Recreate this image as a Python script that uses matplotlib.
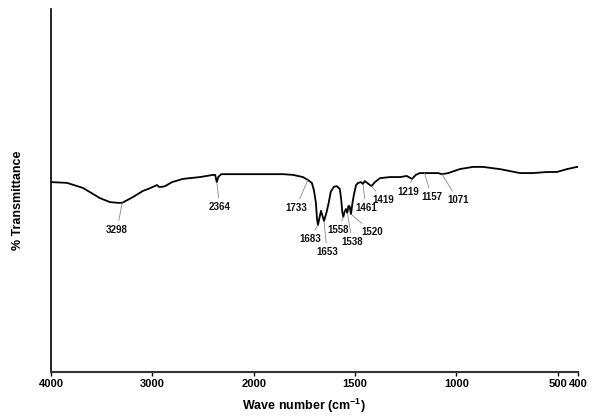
import numpy as np
import matplotlib
matplotlib.use("Agg")
import matplotlib.pyplot as plt

plt.rcParams['font.family'] = ['Liberation Sans', 'DejaVu Sans']
plt.rcParams['mathtext.fontset'] = 'custom'
plt.rcParams['mathtext.rm'] = 'Liberation Sans'
plt.rcParams['mathtext.bf'] = 'Liberation Sans:bold'

wavenumber = [4000, 3990, 3842, 3684, 3517, 3418, 3340, 3298, 3191, 3092, 3043, 2994, 2954, 2934,
              2905, 2875, 2806, 2698, 2530, 2402, 2380, 2364, 2350, 2320, 2264, 2037, 1855, 1806,
              1757, 1733, 1713, 1703, 1693, 1688, 1683, 1668, 1653, 1640, 1630, 1620, 1605, 1590,
              1575, 1568, 1563, 1558, 1552, 1545, 1538, 1533, 1527, 1520, 1512, 1505, 1495, 1485,
              1470, 1461, 1452, 1440, 1419, 1402, 1377, 1328, 1278, 1245, 1219, 1200, 1180, 1157,
              1120, 1090, 1071, 1040, 983, 918, 869, 786, 686, 622, 553, 504, 454, 405, 400]
transmittance = [52.3, 52.3, 52.1, 50.7, 47.9, 46.8, 46.6, 46.6, 48.2, 49.9, 50.4, 51.0, 51.5, 51.0,
                 51.0, 51.2, 52.3, 53.2, 53.7, 54.3, 54.3, 52.3, 53.7, 54.5, 54.5, 54.5, 54.5, 54.3,
                 53.7, 52.9, 52.1, 50.1, 46.6, 42.4, 40.5, 44.4, 41.6, 44.1, 46.6, 49.6, 51.0, 51.2,
                 50.4, 47.4, 44.1, 42.7, 44.1, 44.9, 43.8, 45.7, 45.7, 43.5, 46.8, 49.0, 51.5, 52.1,
                 52.3, 51.8, 52.6, 52.1, 51.2, 52.3, 53.4, 53.7, 53.7, 54.0, 53.2, 54.3, 54.8, 54.8,
                 54.8, 54.8, 54.5, 54.8, 55.9, 56.5, 56.5, 55.9, 54.8, 54.8, 55.1, 55.1, 55.9, 56.5, 56.5]

peak_labels = [3298, 2364, 1733, 1683, 1653, 1558, 1538, 1520, 1461, 1419, 1219, 1157, 1071]
# label offsets in pixels (dx, dy) relative to the peak on the curve
label_offsets = [(-5, -27), (3, -25), (-12, -28), (-8, -14), (3, -31), (-5, -13), (5, -29),
                 (21, -18), (3, -24), (12, -14), (-4, -13), (7, -24), (16, -26)]

xticks = [4000, 3000, 2000, 1500, 1000, 500, 400]
xtick_labels = ['4000', '3000', '2000', '1500', '1000', '500', '400']


def fwd(w):
    w = np.asarray(w, dtype=float)
    return np.where(w > 2000, 2000 + (w - 2000) / 2.0, w)


def inv(g):
    g = np.asarray(g, dtype=float)
    return np.where(g > 2000, 2000 + 2.0 * (g - 2000), g)


fig = plt.figure(figsize=(5.96, 4.16), dpi=100)
ax = fig.add_axes([51 / 596, 44 / 416, 527 / 596, 363 / 416])
ax.set_xscale('function', functions=(fwd, inv))
ax.plot(wavenumber, transmittance, color='black', lw=1.3)
ax.set_xlim(4000, 400)
ax.set_ylim(0, 100)

wn_sorted = np.array(wavenumber[::-1], dtype=float)
tr_sorted = np.array(transmittance[::-1], dtype=float)
for pk, (dx, dy) in zip(peak_labels, label_offsets):
    yv = float(np.interp(pk, wn_sorted, tr_sorted))
    ax.annotate(str(pk), xy=(pk, yv), xytext=(dx, dy), textcoords='offset pixels',
                ha='center', va='center', fontsize=7, fontweight='bold', color='#111111',
                arrowprops=dict(arrowstyle='-', color='#888888', lw=0.6, shrinkA=1, shrinkB=0))

ax.set_xticks(xticks)
ax.set_xticklabels(xtick_labels, fontsize=8, fontweight='bold')
ax.minorticks_off()
ax.set_yticks([])
ax.tick_params(axis='x', direction='out', length=3, width=1, pad=2)

for s in ['top', 'right']:
    ax.spines[s].set_visible(False)
ax.spines['left'].set_linewidth(1.2)
ax.spines['bottom'].set_linewidth(1.5)
ax.spines['bottom'].set_color('#333333')

ax.set_xlabel(r'Wave number (cm$^{\mathbf{-1}}$)', fontsize=9, fontweight='bold', va='center')
ax.xaxis.set_label_coords((304 - 51) / 527, (372 - 406) / 363)
ax.set_ylabel('% Transmittance', fontsize=9, fontweight='bold', va='center')
ax.yaxis.set_label_coords((18 - 51) / 527, (372 - 200) / 363)

fig.savefig('out.png', dpi=100)
